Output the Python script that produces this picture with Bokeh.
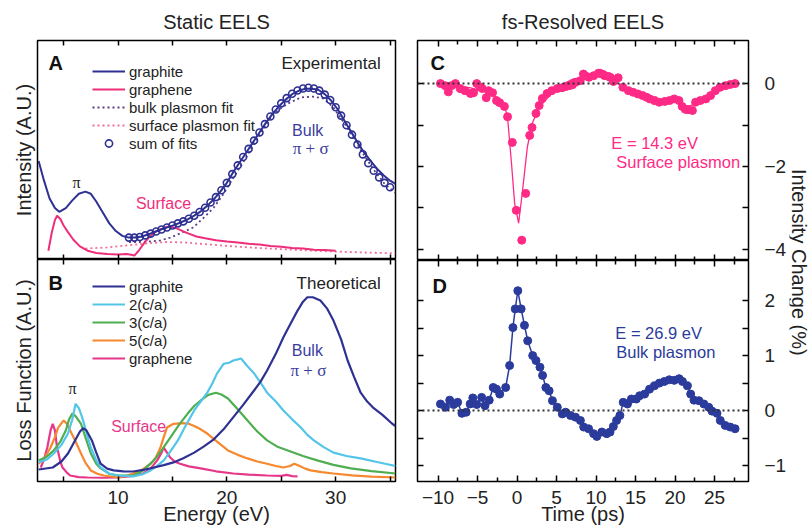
import math
from bokeh.plotting import figure
from bokeh.layouts import row, column
from bokeh.models import (LinearAxis, FixedTicker, Legend, LegendItem, Label,
                          Span, Range1d, CustomLabelingPolicy)
from bokeh.embed import file_html
from bokeh.resources import INLINE

FONT = "Liberation Sans"
SERIF = "Liberation Serif"

# ---------------- data ----------------
# Panel A: experimental static EELS (energy eV, intensity A.U.)
a_graphite_e = [2.7, 3.2, 3.7, 4.2, 4.6, 5.2, 5.8, 6.4, 7.0, 7.5, 8.0, 8.6, 9.2, 9.8, 10.4,
                11.0, 11.6, 12.2, 12.8, 13.4, 14.0, 14.6, 15.2, 15.8, 16.4, 17.0, 17.6,
                18.2, 18.8, 19.4, 20.0, 20.6, 21.2, 21.8, 22.4, 23.0, 23.6, 24.2, 24.8,
                25.4, 26.0, 26.6, 27.2, 27.8, 28.4, 29.0, 29.6, 30.2, 30.8, 31.4, 32.0,
                32.6, 33.2, 33.8, 34.4, 35.0, 35.5]
a_graphite_v = [0.45, 0.36, 0.28, 0.235, 0.218, 0.235, 0.27, 0.30, 0.31, 0.30, 0.265,
                0.215, 0.165, 0.13, 0.108, 0.10, 0.10, 0.105, 0.115, 0.127, 0.138, 0.148,
                0.158, 0.17, 0.183, 0.20, 0.22, 0.245, 0.275, 0.31, 0.35, 0.40, 0.445,
                0.49, 0.535, 0.58, 0.625, 0.665, 0.70, 0.73, 0.755, 0.77, 0.78, 0.78,
                0.775, 0.755, 0.725, 0.685, 0.635, 0.585, 0.535, 0.49, 0.45, 0.415,
                0.385, 0.36, 0.345]
a_graphene_e = [3.6, 3.9, 4.2, 4.4, 4.7, 5.0, 5.4, 5.9, 6.5, 7.2, 8.0, 9.0, 10.0, 10.8,
                11.2, 11.5, 11.9, 12.4, 13.0, 13.5, 14.0, 14.5, 15.0, 15.5, 16.0, 16.5,
                17.2, 18.0, 19.0, 20.0, 21.0, 22.0, 23.0, 24.0, 25.0, 26.0, 27.0, 28.0,
                29.0, 30.0]
a_graphene_v = [0.04, 0.12, 0.18, 0.20, 0.185, 0.155, 0.125, 0.09, 0.06, 0.04, 0.03,
                0.025, 0.023, 0.025, 0.022, 0.018, 0.04, 0.075, 0.11, 0.128, 0.14, 0.15,
                0.148, 0.14, 0.128, 0.118, 0.105, 0.097, 0.088, 0.082, 0.078, 0.072,
                0.068, 0.062, 0.058, 0.052, 0.05, 0.045, 0.043, 0.04]
a_bulkfit_e = [11.0, 12.0, 13.0, 13.9, 14.8, 15.7, 16.9, 17.9, 18.8, 19.7, 20.6, 21.6,
               22.5, 23.4, 24.3, 25.6, 26.8, 27.9, 28.9, 29.8, 31.1, 32.3, 33.5, 34.5,
               35.5]
a_bulkfit_v = [0.08, 0.08, 0.083, 0.087, 0.10, 0.119, 0.146, 0.192, 0.237, 0.30, 0.374,
               0.452, 0.53, 0.603, 0.667, 0.712, 0.74, 0.744, 0.735, 0.694, 0.60, 0.50,
               0.41, 0.345, 0.305]
a_surffit_e = [7.0, 9.0, 11.0, 13.0, 14.5, 16.0, 18.0, 20.0, 23.0, 26.0, 29.0, 32.0, 35.5]
a_surffit_v = [0.05, 0.055, 0.065, 0.075, 0.08, 0.078, 0.07, 0.062, 0.052, 0.045, 0.038,
               0.033, 0.028]
a_sum_e = [11.0, 11.5, 12.0, 12.5, 13.0, 13.5, 14.0, 14.5, 15.0, 15.5, 16.0, 16.5, 17.0,
           17.5, 18.0, 18.5, 19.0, 19.5, 20.0, 20.5, 21.0, 21.5, 22.0, 22.5, 23.0, 23.5,
           24.0, 24.5, 25.0, 25.5, 26.0, 26.5, 27.0, 27.5, 28.0, 28.5, 29.0, 29.5, 30.0,
           30.5, 31.0, 31.5, 32.0, 32.5, 33.0, 33.5, 34.0, 34.5, 35.0]
a_sum_v = [0.10, 0.10, 0.103, 0.11, 0.118, 0.128, 0.137, 0.146, 0.155, 0.165, 0.174,
           0.186, 0.20, 0.217, 0.236, 0.26, 0.285, 0.316, 0.35, 0.39, 0.43, 0.468, 0.505,
           0.543, 0.58, 0.618, 0.653, 0.685, 0.713, 0.737, 0.757, 0.772, 0.781, 0.784,
           0.781, 0.771, 0.753, 0.728, 0.695, 0.657, 0.613, 0.57, 0.525, 0.48, 0.44,
           0.405, 0.375, 0.35, 0.33]

# Panel B: theoretical loss functions
b_graphite_e = [2.7, 4.0, 4.8, 5.4, 6.0, 6.5, 6.8, 7.1, 7.6, 8.0, 8.4, 9.0, 9.6, 10.5,
                11.4, 12.3, 13.3, 14.2, 15.1, 16.0, 17.0, 17.9, 18.8, 19.7, 20.6, 21.5,
                22.5, 23.1, 23.7, 24.5, 25.2, 25.9, 26.5, 27.0, 27.4, 27.9, 28.6, 29.2,
                29.8, 30.5, 31.1, 31.7, 32.3, 32.9, 33.5, 34.3, 35.2, 35.5]
b_graphite_v = [0.054, 0.063, 0.09, 0.126, 0.18, 0.225, 0.24, 0.23, 0.185, 0.13, 0.08,
                0.058, 0.05, 0.046, 0.045, 0.052, 0.063, 0.074, 0.086, 0.105, 0.13, 0.158,
                0.19, 0.235, 0.29, 0.345, 0.41, 0.45, 0.50, 0.575, 0.65, 0.715, 0.77,
                0.81, 0.83, 0.83, 0.815, 0.78, 0.725, 0.64, 0.545, 0.47, 0.40, 0.36, 0.33,
                0.30, 0.26, 0.25]
b_ca2_e = [2.7, 3.5, 4.1, 4.8, 5.4, 5.8, 6.1, 6.4, 6.7, 7.1, 7.5, 8.0, 8.4, 9.2, 10.0,
           11.4, 12.2, 13.0, 13.6, 14.2, 14.8, 15.5, 16.2, 17.0, 17.6, 18.2, 18.7, 19.1,
           19.7, 20.2, 20.6, 21.0, 21.3, 21.8, 22.5, 23.1, 23.7, 24.5, 25.2, 26.0, 26.8,
           27.4, 28.0, 28.9, 29.8, 31.0, 32.3, 33.8, 35.5]
b_ca2_v = [0.086, 0.10, 0.126, 0.165, 0.216, 0.28, 0.35, 0.33, 0.29, 0.22, 0.153, 0.095,
           0.063, 0.035, 0.027, 0.023, 0.032, 0.05, 0.07, 0.095, 0.135, 0.185, 0.25, 0.32,
           0.36, 0.40, 0.445, 0.487, 0.53, 0.535, 0.545, 0.55, 0.554, 0.525, 0.487, 0.445,
           0.40, 0.36, 0.32, 0.28, 0.243, 0.21, 0.185, 0.155, 0.13, 0.115, 0.104, 0.088,
           0.07]
b_ca3_e = [2.7, 3.4, 4.1, 4.7, 5.2, 5.5, 5.8, 6.1, 6.6, 7.0, 7.5, 8.0, 8.4, 9.2, 10.0,
           11.4, 12.3, 13.3, 14.0, 14.8, 15.6, 16.4, 17.0, 17.6, 18.3, 19.0, 19.5, 20.1,
           21.0, 21.9, 22.8, 23.7, 24.6, 25.6, 27.0, 28.3, 29.8, 31.4, 33.3, 35.5]
b_ca3_v = [0.095, 0.11, 0.14, 0.18, 0.23, 0.28, 0.306, 0.295, 0.26, 0.20, 0.126, 0.08,
           0.059, 0.035, 0.027, 0.027, 0.05, 0.095, 0.14, 0.198, 0.255, 0.306, 0.34,
           0.365, 0.39, 0.40, 0.392, 0.374, 0.325, 0.275, 0.225, 0.185, 0.158, 0.14,
           0.115, 0.095, 0.075, 0.059, 0.047, 0.036]
b_ca5_e = [2.7, 3.3, 3.8, 4.2, 4.5, 5.0, 5.3, 5.6, 6.1, 6.6, 7.0, 7.5, 8.1, 8.7, 10.0,
           10.7, 11.4, 12.2, 13.0, 13.5, 13.9, 14.2, 14.5, 15.1, 16.0, 16.5, 17.0, 17.6,
           18.2, 19.1, 20.1, 21.0, 21.9, 22.8, 23.7, 24.5, 25.2, 25.8, 26.2, 26.6, 27.2,
           27.7, 28.7, 29.8, 31.5, 33.3, 35.5]
b_ca5_v = [0.08, 0.11, 0.153, 0.20, 0.243, 0.275, 0.26, 0.23, 0.18, 0.126, 0.085, 0.05,
           0.035, 0.027, 0.018, 0.025, 0.036, 0.052, 0.08, 0.11, 0.153, 0.20, 0.243, 0.26,
           0.263, 0.26, 0.25, 0.235, 0.216, 0.18, 0.14, 0.12, 0.104, 0.09, 0.08, 0.07,
           0.063, 0.07, 0.08, 0.072, 0.058, 0.05, 0.042, 0.036, 0.028, 0.022, 0.018]
b_graphene_e = [2.9, 3.2, 3.5, 3.8, 4.0, 4.2, 4.4, 4.7, 4.9, 5.3, 5.6, 6.4, 7.2, 8.6, 10.0,
                11.2, 12.3, 13.0, 13.6, 14.0, 14.2, 14.5, 14.8, 15.2, 15.7, 16.5, 17.6,
                19.0, 20.6, 22.0, 23.7, 25.0, 25.5, 26.0, 26.5]
b_graphene_v = [0.063, 0.10, 0.153, 0.23, 0.26, 0.23, 0.153, 0.09, 0.063, 0.04, 0.027,
                0.02, 0.018, 0.017, 0.018, 0.024, 0.036, 0.058, 0.095, 0.13, 0.153, 0.13,
                0.108, 0.09, 0.08, 0.068, 0.059, 0.046, 0.036, 0.031, 0.027, 0.025, 0.03,
                0.024, 0.023]

# Panel C: fs-resolved, E = 14.3 eV (time ps, intensity change %)
c_t = [-9.7, -9.1, -8.7, -8.3, -7.8, -7.2, -6.6, -5.9, -5.5, -5.1, -4.7, -4.4, -3.9, -3.6,
       -3.1, -2.6, -2.2, -1.6, -1.2, -0.6, -0.1, 0.6, 1.1, 1.6, 1.9, 2.4, 2.8, 3.2, 3.8,
       4.4, 5.1, 5.7, 6.2, 6.6, 7.0, 7.4, 8.0, 8.4, 8.65, 9.1, 9.7, 10.3, 10.5, 10.9,
       11.1, 11.6, 11.8, 12.2, 12.8, 13.4, 14.1, 14.7, 15.3, 15.9, 16.4, 16.8, 17.4,
       18.0, 18.7, 19.3, 19.9, 20.5, 20.9, 21.3, 21.6, 22.2, 22.6, 23.2, 23.9, 24.5,
       25.1, 25.7, 26.4, 27.0, 27.6]
c_v = [0.0, -0.05, -0.2, -0.05, 0.0, -0.12, -0.17, -0.24, -0.22, 0.0, -0.08, -0.12, -0.34,
       -0.17, -0.22, -0.41, -0.46, -0.55, -0.80, -1.42, -3.06, -3.78, -2.65, -1.25, -1.06,
       -0.72, -0.53, -0.36, -0.24, -0.17, -0.12, -0.10, -0.07, -0.05, -0.03, 0.03, 0.07,
       0.23, 0.19, 0.15, 0.19, 0.25, 0.25, 0.22, 0.19, 0.17, 0.15, 0.05, 0.14, -0.09,
       -0.17, -0.21, -0.25, -0.29, -0.33, -0.37, -0.41, -0.45, -0.43, -0.41, -0.37, -0.41,
       -0.55, -0.62, -0.63, -0.65, -0.45, -0.41, -0.37, -0.29, -0.17, -0.09, -0.05, -0.02,
       0.0]
c_fit_t = [-10.0, -8.0, -6.0, -4.0, -3.0, -2.0, -1.5, -1.2, -0.7, -0.3, 0.2, 0.7, 1.3,
           1.9, 2.8, 4.1, 5.3, 7.0, 8.5, 10.0, 11.5, 12.5, 13.5, 15.0, 17.0, 18.5, 20.0,
           21.5, 22.5, 23.5, 25.0, 26.5, 27.5]
c_fit_v = [-0.02, -0.05, -0.10, -0.20, -0.28, -0.42, -0.60, -0.82, -1.93, -2.90, -3.37,
           -2.58, -1.54, -0.97, -0.58, -0.29, -0.06, 0.10, 0.16, 0.18, 0.14, 0.05, -0.10,
           -0.22, -0.37, -0.43, -0.42, -0.55, -0.50, -0.38, -0.18, -0.05, 0.0]

# Panel D: fs-resolved, E = 26.9 eV
d_t = [-9.69, -9.06, -8.52, -8.02, -7.52, -6.98, -6.44, -5.94, -5.60, -5.10, -4.48, -4.06,
       -3.52, -3.02, -2.60, -2.19, -1.44, -0.94, -0.52, -0.23, 0.10, 0.52, 0.94, 1.35,
       1.98, 2.40, 2.90, 3.23, 3.65, 4.06, 4.48, 5.10, 5.73, 6.15, 6.77, 7.40, 8.02, 8.44,
       9.06, 9.69, 10.10, 10.73, 11.35, 11.77, 12.19, 12.60, 13.02, 13.44, 13.98, 14.48,
       15.10, 15.52, 16.15, 16.77, 17.40, 18.02, 18.65, 19.27, 19.90, 20.52, 20.94, 21.56,
       21.98, 22.40, 23.02, 23.65, 24.27, 24.69, 25.31, 25.73, 26.35, 26.98, 27.60]
d_v = [0.12, 0.06, 0.19, 0.11, 0.15, -0.05, -0.03, 0.12, 0.23, 0.11, 0.24, 0.09, 0.19,
       0.42, 0.39, 0.30, 0.42, 0.82, 1.51, 1.85, 2.18, 1.85, 1.55, 1.27, 1.00, 0.91, 0.79,
       0.64, 0.42, 0.36, 0.18, 0.06, -0.06, -0.03, -0.09, -0.12, -0.18, -0.30, -0.33,
       -0.42, -0.47, -0.39, -0.42, -0.39, -0.29, -0.18, -0.09, 0.15, 0.12, 0.21, 0.21,
       0.27, 0.30, 0.39, 0.45, 0.50, 0.53, 0.56, 0.55, 0.58, 0.53, 0.45, 0.30, 0.19, 0.18,
       0.12, 0.06, -0.01, -0.05, -0.18, -0.27, -0.30, -0.33]

energy_ticks = [10, 20, 30]
energy_minor = [5, 15, 25, 35]
time_ticks = [-10, -5, 0, 5, 10, 15, 20, 25]
time_minor = [-7.5, -2.5, 2.5, 7.5, 12.5, 17.5, 22.5, 27.5]
c_ticks = [-4, -2, 0]
c_minor = [-3, -1]
d_ticks = [-1, 0, 1, 2]
d_minor = [-0.5, 0.5, 1.5]

NAVY = "#2e3192"
PINK_A = "#ee2e7a"
PINK_C = "#ff2a86"
CYAN = "#52c5e8"
GREEN = "#4fae50"
ORANGE = "#f7882e"
MAGENTA = "#e6378a"
BLUE_D = "#2b3b9c"
BULKFIT = "#5a3d88"
SURFFIT = "#f26e95"
LNAVY = "#3b3d9e"
TXT = "#222222"

E_RANGE = (2.6, 35.5)
T_RANGE = (-12.6, 29.3)
A_RANGE = (0, 1)
B_RANGE = (0, 1)
C_RANGE = (-4.27, 1.04)
D_RANGE = (-1.29, 2.73)


def minus(v):
    return ("%g" % v).replace("-", "\u2212")


def make_fig(w, h, xr, yr, ml, mr, mt, mb, title=None):
    p = figure(width=w, height=h, x_range=Range1d(*xr), y_range=Range1d(*yr),
               output_backend="svg", toolbar_location=None,
               x_axis_location=None, y_axis_location=None,
               min_border_left=ml, min_border_right=mr, min_border_top=mt,
               min_border_bottom=mb)
    p.grid.visible = False
    p.outline_line_color = "black"
    p.outline_line_width = 1.5
    p.background_fill_color = "white"
    p.border_fill_color = "white"
    if title:
        p.title.text = title
        p.title.align = "center"
        p.title.text_font = FONT
        p.title.text_font_size = "20px"
        p.title.text_font_style = "normal"
        p.title.text_color = TXT
        p.title.standoff = 16
    return p


def add_axis(p, side, ticks, minor, labels=False, axis_label=None, tin=6, minor_in=4,
             standoff=9, label_standoff=0):
    ax = LinearAxis(ticker=FixedTicker(ticks=ticks, minor_ticks=minor))
    ax.axis_line_color = None
    ax.major_tick_in = tin
    ax.major_tick_out = 0
    ax.minor_tick_in = minor_in
    ax.minor_tick_out = 0
    ax.major_tick_line_color = "black"
    ax.major_tick_line_width = 1.5
    ax.minor_tick_line_color = "black"
    ax.minor_tick_line_width = 1.5
    if labels:
        ax.major_label_text_font = FONT
        ax.major_label_text_font_size = "19px"
        ax.major_label_text_color = TXT
        ax.major_label_text_line_height = 1.0
        ax.major_label_standoff = standoff
        ax.major_label_overrides = {t: minus(t) for t in ticks}
    else:
        ax.major_label_text_font_size = "0px"
        ax.major_label_standoff = 0
        ax.major_label_policy = CustomLabelingPolicy(code="return []")
    if axis_label:
        ax.axis_label = axis_label
        ax.axis_label_text_font = FONT
        ax.axis_label_text_font_size = "20px"
        ax.axis_label_text_font_style = "normal"
        ax.axis_label_text_color = TXT
        ax.axis_label_text_line_height = 1.0
        ax.axis_label_standoff = label_standoff
    p.add_layout(ax, side)
    return ax


def txt(p, x, y, text, color=TXT, size="16px", align="center", font=FONT, style="normal"):
    p.add_layout(Label(x=x, y=y, text=text, text_color=color, text_font_size=size,
                       text_align=align, text_baseline="middle", text_font=font,
                       text_font_style=style))


def legend(p, items, loc):
    lg = Legend(items=items, location=loc, background_fill_alpha=0, border_line_alpha=0,
                label_text_font=FONT, label_text_font_size="15px", label_text_color=TXT,
                glyph_width=33, glyph_height=18, label_height=18, spacing=0, padding=0,
                margin=0, label_standoff=4)
    p.add_layout(lg, "center")


# ---------------- Panel A ----------------
pA = make_fig(400, 259, E_RANGE, A_RANGE, 37, 5, 40, 0, title="Static EELS")
add_axis(pA, "above", [5, 10, 15, 20, 25, 30, 35], [], tin=5)
add_axis(pA, "below", energy_ticks, energy_minor, tin=5, minor_in=5)
add_axis(pA, "left", [], [], axis_label="Intensity (A.U.)", label_standoff=3)

rA_sf = pA.line(a_surffit_e, a_surffit_v, line_color=SURFFIT, line_width=1.8, line_dash="2 3")
rA_bf = pA.line(a_bulkfit_e, a_bulkfit_v, line_color=BULKFIT, line_width=1.8, line_dash="2 3")
rA_ge = pA.line(a_graphene_e, a_graphene_v, line_color=PINK_A, line_width=2)
rA_gr = pA.line(a_graphite_e, a_graphite_v, line_color=NAVY, line_width=2)
rA_sum = pA.scatter(a_sum_e, a_sum_v, marker="circle", size=7, fill_color=None,
                    line_color=NAVY, line_width=1.6)
legend(pA, [LegendItem(label="graphite", renderers=[rA_gr]),
            LegendItem(label="graphene", renderers=[rA_ge]),
            LegendItem(label="bulk plasmon fit", renderers=[rA_bf]),
            LegendItem(label="surface plasmon fit", renderers=[rA_sf]),
            LegendItem(label="sum of fits", renderers=[rA_sum])], (55, 107))
txt(pA, 3.61, 0.895, "A", size="20px", align="left", style="bold", color="#111111")
txt(pA, 34.14, 0.895, "Experimental", size="17px", align="right")
txt(pA, 6.18, 0.352, "\u03c0", size="16px", font=SERIF)
txt(pA, 14.18, 0.256, "Surface", color=PINK_A, size="16px")
txt(pA, 27.43, 0.589, "Bulk", color=LNAVY, size="16px")
txt(pA, 27.7, 0.507, "\u03c0 + \u03c3", color=LNAVY, size="17px", font=SERIF)

# ---------------- Panel B ----------------
pB = make_fig(400, 271, E_RANGE, B_RANGE, 37, 5, 0, 49)
add_axis(pB, "above", energy_ticks, energy_minor, tin=5, minor_in=5)
add_axis(pB, "below", energy_ticks, energy_minor, labels=True, tin=5, minor_in=5,
         axis_label="Energy (eV)", label_standoff=-4)
add_axis(pB, "left", [], [], axis_label="Loss Function (A.U.)", label_standoff=3)

rB_ge = pB.line(b_graphene_e, b_graphene_v, line_color=MAGENTA, line_width=2.2)
rB_5 = pB.line(b_ca5_e, b_ca5_v, line_color=ORANGE, line_width=2.2)
rB_3 = pB.line(b_ca3_e, b_ca3_v, line_color=GREEN, line_width=2.2)
rB_2 = pB.line(b_ca2_e, b_ca2_v, line_color=CYAN, line_width=2.2)
rB_gr = pB.line(b_graphite_e, b_graphite_v, line_color=NAVY, line_width=2.2)
legend(pB, [LegendItem(label="graphite", renderers=[rB_gr]),
            LegendItem(label="2(c/a)", renderers=[rB_2]),
            LegendItem(label="3(c/a)", renderers=[rB_3]),
            LegendItem(label="5(c/a)", renderers=[rB_5]),
            LegendItem(label="graphene", renderers=[rB_ge])], (55, 114))
txt(pB, 3.61, 0.892, "B", size="20px", align="left", style="bold", color="#111111")
txt(pB, 34.14, 0.892, "Theoretical", size="17px", align="right")
txt(pB, 5.82, 0.419, "\u03c0", size="16px", font=SERIF)
txt(pB, 11.9, 0.248, "Surface", color=MAGENTA, size="16px")
txt(pB, 27.4, 0.59, "Bulk", color=LNAVY, size="16px")
txt(pB, 27.5, 0.50, "\u03c0 + \u03c3", color=LNAVY, size="17px", font=SERIF)

# ---------------- Panel C ----------------
pC = make_fig(389, 260, T_RANGE, C_RANGE, 17, 37, 40, 0, title="fs-Resolved EELS")
add_axis(pC, "above", time_ticks, time_minor)
add_axis(pC, "below", time_ticks, time_minor)
add_axis(pC, "left", c_ticks, c_minor, minor_in=6)
add_axis(pC, "right", c_ticks, c_minor, labels=True, minor_in=6, standoff=16)
pC.add_layout(Span(location=0, dimension="width", line_color="#333333", line_width=2,
                   line_dash="2 3"))
pC.line(c_fit_t, c_fit_v, line_color=PINK_C, line_width=1.3)
pC.scatter(c_t, c_v, marker="circle", size=8, fill_color=PINK_C, line_color=PINK_C)
txt(pC, -10.94, 0.506, "C", size="20px", align="left", style="bold", color="#111111")
txt(pC, 11.94, -1.446, "E = 14.3 eV", color=PINK_C, size="16.5px", align="left")
txt(pC, 12.56, -1.90, "Surface plasmon", color=PINK_C, size="16.5px", align="left")

# ---------------- Panel D ----------------
pD = make_fig(389, 270, T_RANGE, D_RANGE, 17, 37, 0, 49)
add_axis(pD, "above", time_ticks, time_minor)
add_axis(pD, "below", time_ticks, time_minor, labels=True, axis_label="Time (ps)",
         label_standoff=-4)
add_axis(pD, "left", d_ticks, d_minor, minor_in=6)
add_axis(pD, "right", d_ticks, d_minor, labels=True, minor_in=6, standoff=16)
pD.add_layout(Span(location=0, dimension="width", line_color="#333333", line_width=2,
                   line_dash="2 3"))
pD.line(d_t, d_v, line_color=BLUE_D, line_width=1.5)
pD.scatter(d_t, d_v, marker="circle", size=8, fill_color=BLUE_D, line_color=BLUE_D)
txt(pD, -10.7, 2.27, "D", size="20px", align="left", style="bold", color="#111111")
txt(pD, 12.44, 1.418, "E = 26.9 eV", color=BLUE_D, size="16.5px", align="left")
txt(pD, 12.56, 1.07, "Bulk plasmon", color=BLUE_D, size="16.5px", align="left")

# ---------------- shared right-side label ----------------
pL = figure(width=20, height=530, x_range=Range1d(0, 1), y_range=Range1d(0, 1),
            output_backend="svg", toolbar_location=None, x_axis_location=None,
            y_axis_location=None, min_border_left=0, min_border_right=0,
            min_border_top=0, min_border_bottom=0)
pL.grid.visible = False
pL.outline_line_color = None
pL.add_layout(Label(x=0.45, y=0.506, text="Intensity Change (%)", angle=-math.pi / 2,
                    text_align="center", text_baseline="middle", text_font=FONT,
                    text_font_size="20px", text_color=TXT))

layout = row(column(pA, pB), column(pC, pD), pL)
open("out.html", "w").write(file_html(layout, INLINE))
